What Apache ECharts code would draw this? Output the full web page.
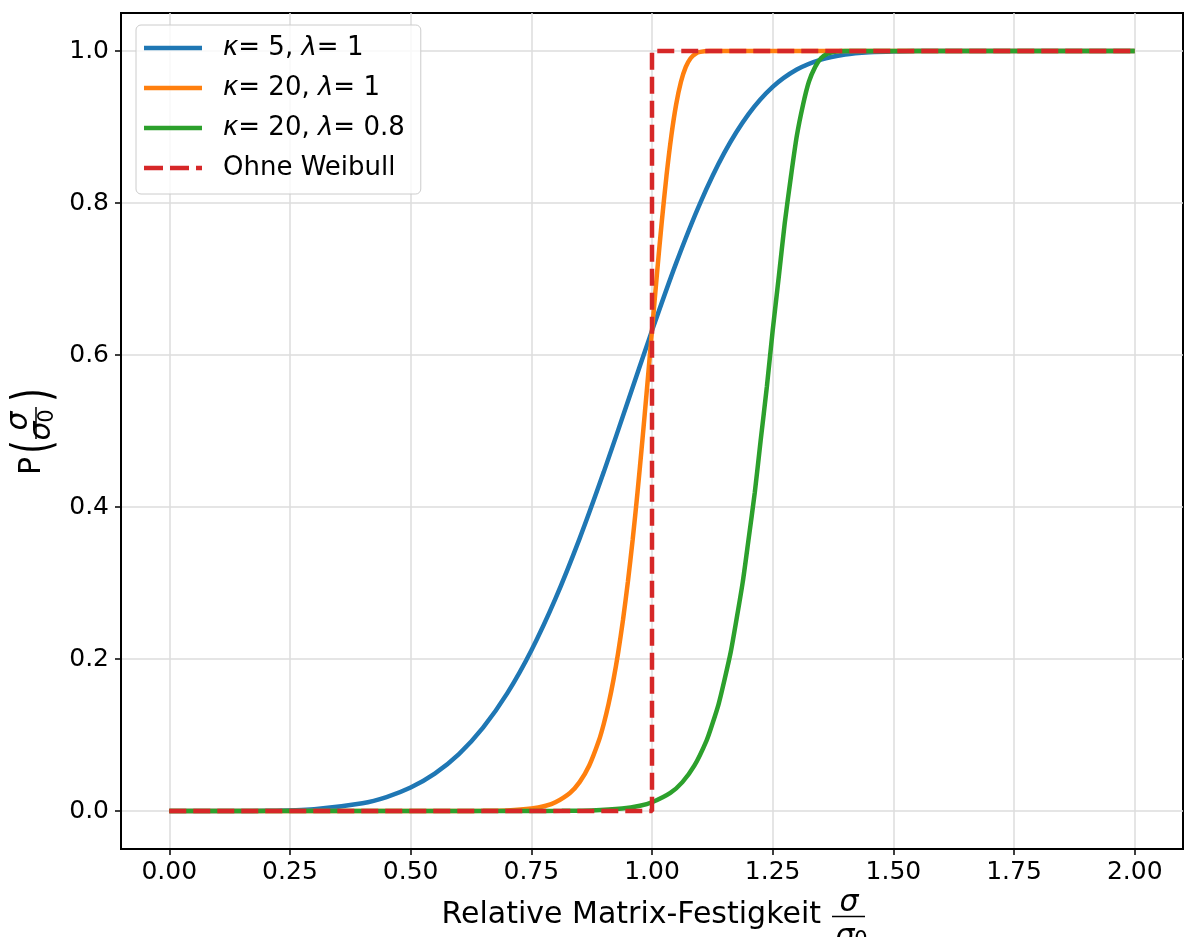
<!DOCTYPE html>
<html>
<head>
<meta charset="utf-8">
<script src="https://cdn.jsdelivr.net/npm/echarts@6/dist/echarts.min.js"></script>
<style>
  html, body { margin: 0; padding: 0; background: #fff; }
  #chart { width: 1184px; height: 937px; }
</style>
</head>
<body>
<div id="chart"></div>
<script>
// Weibull-Verteilung der Matrix-Festigkeit
const seriesNames = ['κ= 5, λ= 1', 'κ= 20, λ= 1', 'κ= 20, λ= 0.8', 'Ohne Weibull']
const colors = ['#1f77b4', '#ff7f0e', '#2ca02c', '#d62728']

const xK5 = [0, 0.1, 0.2, 0.3, 0.4, 0.45, 0.5, 0.55, 0.6, 0.65, 0.7, 0.75, 0.8, 0.85, 0.9, 0.95,
  1.0, 1.05, 1.1, 1.15, 1.2, 1.25, 1.3, 1.35, 1.4, 1.45, 1.5, 1.6, 1.7, 1.8, 2.0]
const yK5 = [0, 0, 0.0003, 0.0024, 0.0102, 0.0183, 0.0308, 0.0491, 0.0748, 0.1096, 0.1547, 0.2112, 0.2794, 0.3584, 0.4459, 0.5387,
  0.6321, 0.7209, 0.8002, 0.8662, 0.9169, 0.9527, 0.9756, 0.9887, 0.9954, 0.9984, 0.9995, 1, 1, 1, 1]

const xK20 = [0, 0.5, 0.6, 0.65, 0.7, 0.75, 0.78, 0.8, 0.83, 0.85, 0.87, 0.89, 0.9, 0.91, 0.92, 0.93, 0.94, 0.95, 0.96, 0.97, 0.98, 0.99,
  1.0, 1.01, 1.02, 1.03, 1.04, 1.05, 1.06, 1.07, 1.08, 1.09, 1.1, 1.12, 1.15, 1.2, 1.5, 2.0]
const yK20 = [0, 0, 0, 0.0002, 0.0008, 0.0032, 0.0069, 0.0115, 0.0238, 0.038, 0.0599, 0.0927, 0.1145, 0.1407, 0.172, 0.2088, 0.2518, 0.3013, 0.3572, 0.4194, 0.4871, 0.5586,
  0.6321, 0.7048, 0.7737, 0.8357, 0.8882, 0.9296, 0.9595, 0.9791, 0.9905, 0.9963, 0.9988, 0.9999, 1, 1, 1, 1]

const xK20L08 = [0, 0.625, 0.75, 0.813, 0.875, 0.938, 0.975, 1.0, 1.038, 1.063, 1.088, 1.113, 1.125, 1.138, 1.15, 1.163, 1.175, 1.188, 1.2, 1.213, 1.225, 1.238,
  1.25, 1.263, 1.275, 1.288, 1.3, 1.313, 1.325, 1.338, 1.35, 1.363, 1.375, 1.4, 1.438, 1.5, 2.0]
const yK20L08 = [0, 0, 0, 0.0002, 0.0008, 0.0032, 0.0069, 0.0115, 0.0238, 0.038, 0.0599, 0.0927, 0.1145, 0.1407, 0.172, 0.2088, 0.2518, 0.3013, 0.3572, 0.4194, 0.4871, 0.5586,
  0.6321, 0.7048, 0.7737, 0.8357, 0.8882, 0.9296, 0.9595, 0.9791, 0.9905, 0.9963, 0.9988, 0.9999, 1, 1, 1]

const xStep = [0, 1, 1, 2]
const yStep = [0, 0, 1, 1]

const xTicks = [0, 0.25, 0.5, 0.75, 1.0, 1.25, 1.5, 1.75, 2.0]
const yTicks = [0, 0.2, 0.4, 0.6, 0.8, 1.0]

const FONT = 'DejaVu Sans'
const LW = 4.5

function pairs (xs, ys) {
  return xs.map((x, i) => [x, ys[i]])
}

function curve (idx, xs, ys, smooth) {
  return {
    name: seriesNames[idx],
    type: 'line',
    data: pairs(xs, ys),
    showSymbol: false,
    symbol: 'none',
    smooth: smooth,
    lineStyle: { color: colors[idx], width: LW },
    itemStyle: { color: colors[idx] }
  }
}

const mathFont = 'italic 30px "' + FONT + '"'
const textFont = '30px "' + FONT + '"'
const subFont = '21px "' + FONT + '"'

function txt (x, y, text, font, align, extra) {
  return Object.assign({
    type: 'text', x: x, y: y,
    style: { text: text, font: font, fill: '#000', align: align || 'center', verticalAlign: 'middle' }
  }, extra || {})
}

// Legendensymbole: durchgezogene bzw. gestrichelte Linie (58 x 4.5)
const solidIcon = 'path://M0,0h58v4.5h-58z'
const dashIcon = 'path://M0,0h19v4.5h-19z M26,0h19v4.5h-19z M52,0h6v4.5h-6z'

const option = {
  animation: false,
  backgroundColor: '#fff',
  textStyle: { fontFamily: FONT },
  grid: {
    left: 121, right: 1, top: 13, bottom: 88,
    show: true, borderColor: '#000', borderWidth: 2, containLabel: false
  },
  legend: {
    orient: 'vertical',
    left: 136, top: 25,
    padding: [8, 16, 11, 8],
    itemWidth: 58, itemHeight: 4.5, itemGap: 10,
    backgroundColor: 'rgba(255,255,255,0.8)',
    borderColor: '#cccccc', borderWidth: 1, borderRadius: 5,
    data: seriesNames.map((n, i) => ({ name: n, icon: i === 3 ? dashIcon : solidIcon })),
    itemStyle: { borderWidth: 0 },
    formatter: name => name.replace(/([κλ])/g, '{i|$1}'),
    textStyle: {
      fontSize: 26, color: '#000', lineHeight: 30, padding: [0, 0, 0, 16],
      rich: { i: { fontStyle: 'italic', fontSize: 26, lineHeight: 30 } }
    }
  },
  xAxis: {
    type: 'value', min: -0.1, max: 2.1,
    axisLine: { show: true, onZero: false, lineStyle: { color: '#000', width: 2 } },
    axisTick: { show: true, length: 6, lineStyle: { color: '#000', width: 1.5 }, customValues: xTicks },
    axisLabel: { fontSize: 25, color: '#000', margin: 11, customValues: xTicks, formatter: v => v.toFixed(2) },
    splitLine: { show: true, lineStyle: { color: '#dcdcdc', width: 1.5 } }
  },
  yAxis: {
    type: 'value', min: -0.05, max: 1.05,
    axisLine: { show: true, onZero: false, lineStyle: { color: '#000', width: 2 } },
    axisTick: { show: true, length: 6, lineStyle: { color: '#000', width: 1.5 }, customValues: yTicks },
    axisLabel: { fontSize: 25, color: '#000', margin: 12, customValues: yTicks, formatter: v => v.toFixed(1) },
    splitLine: { show: true, lineStyle: { color: '#dcdcdc', width: 1.5 } }
  },
  series: [
    curve(0, xK5, yK5, 0.3),
    curve(1, xK20, yK20, 0.25),
    curve(2, xK20L08, yK20L08, 0.25),
    {
      name: seriesNames[3],
      type: 'line',
      data: pairs(xStep, yStep),
      showSymbol: false,
      symbol: 'none',
      lineStyle: { color: colors[3], width: LW, type: [17, 7] },
      itemStyle: { color: colors[3] }
    }
  ],
  graphic: [
    // x-Achsenbeschriftung mit Bruch
    txt(821, 915, 'Relative Matrix-Festigkeit', textFont, 'right'),
    txt(849, 903, 'σ', mathFont),
    { type: 'line', shape: { x1: 832, y1: 916.5, x2: 865, y2: 916.5 }, style: { stroke: '#000', lineWidth: 1.5 } },
    txt(845, 937, 'σ', mathFont),
    txt(861, 941, '0', subFont),
    // y-Achsenbeschriftung P(σ/σ0), gedreht
    {
      type: 'group', x: 36, y: 432, rotation: Math.PI / 2,
      children: [
        txt(-43, -4, 'P', textFont, 'left'),
        txt(-15, 0, '(', textFont, 'center', { scaleX: 1.15, scaleY: 1.75 }),
        txt(11, -16.4, 'σ', mathFont),
        { type: 'line', shape: { x1: -7, y1: 0, x2: 25, y2: 0 }, style: { stroke: '#000', lineWidth: 1.5 } },
        txt(1, 6.6, 'σ', mathFont),
        txt(16, 11.7, '0', subFont),
        txt(37, 0, ')', textFont, 'center', { scaleX: 1.15, scaleY: 1.75 })
      ]
    }
  ]
}

const myChart = echarts.init(document.getElementById('chart'))
myChart.setOption(option)
</script>
</body>
</html>
